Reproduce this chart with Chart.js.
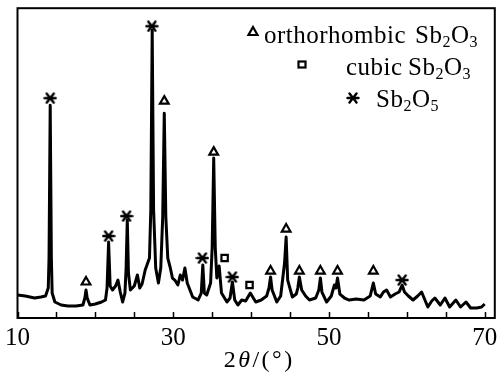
<!DOCTYPE html>
<html>
<head>
<meta charset="utf-8">
<title>XRD Sb2O3 / Sb2O5</title>
<script src="https://cdn.jsdelivr.net/npm/chart.js@4/dist/chart.umd.min.js"></script>
<style>
  html, body { margin: 0; padding: 0; background: #fff; }
  #wrap { position: relative; width: 503px; height: 376px; }
</style>
</head>
<body>
<div id="wrap"><canvas id="xrd" width="503" height="376"></canvas></div>
<script>
'use strict';

// 衍射图数据 (2θ, 强度为任意单位)
var twoTheta = [
  10.0, 11.0, 12.2, 13.0, 13.6, 13.95, 14.05, 14.2, 14.35, 14.45, 14.8, 15.6, 16.5, 17.5,
  18.4, 18.65, 18.8, 18.95, 19.3, 20.0, 20.8, 21.3, 21.5, 21.7, 21.9, 22.2, 22.6, 22.9,
  23.2, 23.5, 23.8, 23.95, 24.1, 24.25, 24.5, 25.0, 25.4, 25.7, 26.0, 26.4, 26.95, 27.12,
  27.3, 27.48, 27.75, 28.1, 28.4, 28.65, 28.85, 29.05, 29.3, 29.6, 29.9, 30.2, 30.6, 30.9,
  31.2, 31.5, 31.8, 32.5, 33.2, 33.6, 33.8, 34.0, 34.3, 34.8, 35.0, 35.2, 35.4, 35.6,
  35.9, 36.2, 36.9, 37.3, 37.6, 37.9, 38.3, 38.8, 39.3, 39.9, 40.6, 41.3, 42.0, 42.3,
  42.5, 42.7, 43.3, 43.8, 44.3, 44.5, 44.7, 45.3, 45.8, 46.0, 46.2, 46.5, 47.0, 47.5,
  48.3, 48.7, 48.9, 49.1, 49.7, 50.3, 50.7, 50.9, 51.1, 51.4, 52.0, 52.6, 53.5, 54.5,
  55.3, 55.7, 56.0, 56.6, 57.0, 57.4, 57.9, 58.5, 59.0, 59.4, 59.7, 60.2, 60.8, 61.4,
  61.9, 62.7, 63.2, 63.6, 64.3, 64.9, 65.5, 66.3, 66.9, 67.6, 68.2, 69.0, 69.6, 70.0
];
var intensity = [
  23, 22, 20, 21, 22, 30, 60, 213, 60, 25, 16, 13, 12, 12,
  13, 20, 28, 20, 13, 14, 16, 18, 30, 76, 32, 28, 32, 38,
  26, 16, 25, 50, 98, 45, 28, 32, 43, 30, 34, 48, 60, 108,
  288, 108, 50, 35, 50, 101, 205, 101, 60, 51, 40, 38, 33, 43,
  38, 50, 35, 21, 18, 25, 53, 25, 23, 35, 70, 160, 70, 40,
  52, 25, 16, 20, 36, 18, 13, 18, 17, 25, 16, 18, 22, 30,
  41, 28, 16, 22, 55, 81, 38, 21, 24, 30, 41, 28, 22, 18,
  20, 28, 40, 26, 16, 22, 33, 30, 40, 24, 20, 18, 19, 18,
  22, 35, 24, 21, 26, 28, 21, 24, 26, 33, 26, 22, 18, 22,
  26, 11, 17, 20, 13, 20, 11, 18, 11, 16, 10, 10, 11, 14
];

// 物相标记 (峰位, 标记高度)
var orthoPos = [18.8, 28.85, 35.2, 42.5, 44.5, 46.2, 48.9, 51.1, 55.7];
var orthoY   = [36, 217, 166, 47, 89, 47, 47, 47, 47];
var cubicPos = [36.6, 39.8];
var cubicY   = [60, 33];
var sb2o5Pos = [14.2, 21.7, 24.0, 27.25, 33.75, 37.6, 59.4];
var sb2o5Y   = [220, 82, 102, 292, 60, 41, 38];

var xTickLabels = [10, 30, 50, 70];
var xMinorTicks = [15, 20, 25, 35, 40, 45, 55, 60, 65];

var SERIF = '"Liberation Serif", "Times New Roman", "DejaVu Serif", serif';

function toPoints(xs, ys) {
  return xs.map(function (x, i) { return { x: x, y: ys[i] }; });
}

// 六角星号标记 (Chart.js 自带的 star 是八角的)
function makeAsterisk() {
  var c = document.createElement('canvas');
  c.width = 14;
  c.height = 12;
  var g = c.getContext('2d');
  g.strokeStyle = '#000';
  g.lineWidth = 2.4;
  g.lineCap = 'round';
  g.beginPath();
  g.moveTo(1.5, 6); g.lineTo(12.5, 6);
  g.moveTo(3.5, 1.5); g.lineTo(10.5, 10.5);
  g.moveTo(3.5, 10.5); g.lineTo(10.5, 1.5);
  g.stroke();
  return c;
}
var asterisk = makeAsterisk();

// 边框, 刻度, 图例和坐标轴标题
var decorPlugin = {
  id: 'decor',
  afterDraw: function (chart) {
    var ctx = chart.ctx;
    var area = chart.chartArea;
    var xs = chart.scales.x;

    ctx.save();
    ctx.strokeStyle = '#000';
    ctx.lineWidth = 2;
    ctx.strokeRect(area.left, area.top, area.right - area.left, area.bottom - area.top);

    // 内向刻度
    ctx.lineWidth = 1.5;
    xTickLabels.concat(xMinorTicks).forEach(function (v) {
      var px = Math.round(xs.getPixelForValue(v)) + 0.5;
      ctx.beginPath();
      ctx.moveTo(px, area.bottom);
      ctx.lineTo(px, area.bottom - 6);
      ctx.stroke();
    });

    // 图例
    ctx.fillStyle = '#000';
    ctx.textBaseline = 'alphabetic';
    ctx.letterSpacing = '0.5px';
    var big = '25px ' + SERIF;
    var small = '16px ' + SERIF;
    function word(text, x, y, font, dy) {
      ctx.font = font;
      ctx.fillText(text, x, y + (dy || 0));
      return x + ctx.measureText(text).width;
    }
    function formula(x, y, sub2) {
      x = word('Sb', x, y, big);
      x = word('2', x, y, small, 4);
      x = word('O', x, y, big);
      word(sub2, x, y, small, 4);
    }
    word('orthorhombic', 264, 43, big);
    formula(415, 43, '3');
    word('cubic', 346, 75, big);
    formula(408, 75, '3');
    formula(376, 107, '5');

    ctx.lineWidth = 2.2;
    ctx.beginPath();
    ctx.moveTo(253, 27);
    ctx.lineTo(257.5, 35);
    ctx.lineTo(248.5, 35);
    ctx.closePath();
    ctx.stroke();
    ctx.strokeRect(298.5, 61.5, 7, 6);
    ctx.drawImage(asterisk, 353 - 7, 98 - 6);

    // 横轴标题 2θ/(°)
    ctx.letterSpacing = '2.5px';
    var ty = 367;
    var parts = [['2', ''], ['θ', 'italic '], ['/(°)', '']];
    var total = 0;
    parts.forEach(function (p) {
      ctx.font = p[1] + '24px ' + SERIF;
      total += ctx.measureText(p[0]).width;
    });
    var tx = (area.left + area.right) / 2 - total / 2 + 3;
    parts.forEach(function (p) {
      ctx.font = p[1] + '24px ' + SERIF;
      ctx.fillText(p[0], tx, ty);
      tx += ctx.measureText(p[0]).width;
    });
    ctx.restore();
  }
};

var markerBase = {
  type: 'scatter',
  showLine: false,
  pointBackgroundColor: '#fff',
  pointBorderColor: '#000',
  pointBorderWidth: 2.2,
  pointHoverRadius: 0
};

new Chart(document.getElementById('xrd').getContext('2d'), {
  type: 'line',
  data: {
    datasets: [
      {
        label: 'XRD',
        data: toPoints(twoTheta, intensity),
        borderColor: '#000',
        borderWidth: 3,
        borderJoinStyle: 'round',
        pointRadius: 0,
        tension: 0,
        fill: false
      },
      Object.assign({}, markerBase, {
        label: 'orthorhombic Sb2O3',
        data: toPoints(orthoPos, orthoY),
        pointStyle: 'triangle',
        pointRadius: 5
      }),
      Object.assign({}, markerBase, {
        label: 'cubic Sb2O3',
        data: toPoints(cubicPos, cubicY),
        pointStyle: 'rect',
        pointRadius: 4.5
      }),
      Object.assign({}, markerBase, {
        label: 'Sb2O5',
        data: toPoints(sb2o5Pos, sb2o5Y),
        pointStyle: asterisk,
        pointRadius: 6
      })
    ]
  },
  options: {
    responsive: false,
    animation: false,
    events: [],
    layout: { padding: { left: 16, right: 6, top: 8, bottom: 0 } },
    plugins: {
      legend: { display: false },
      tooltip: { enabled: false }
    },
    scales: {
      x: {
        type: 'linear',
        min: 10,
        max: 71.3,
        grid: { display: false, drawTicks: false },
        border: { display: false },
        afterBuildTicks: function (axis) {
          axis.ticks = xTickLabels.map(function (v) { return { value: v }; });
        },
        afterFit: function (scale) { scale.height = 58; },
        ticks: {
          color: '#000',
          padding: 5,
          maxRotation: 0,
          font: { family: SERIF, size: 25 }
        }
      },
      y: {
        display: false,
        min: 0,
        max: 310
      }
    }
  },
  plugins: [decorPlugin]
});
</script>
</body>
</html>
